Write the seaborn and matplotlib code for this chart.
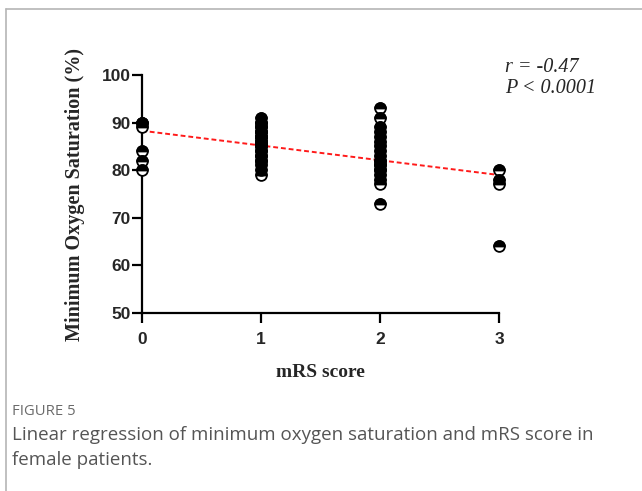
import numpy as np
import pandas as pd
import matplotlib
matplotlib.use('Agg')
import matplotlib.pyplot as plt
from matplotlib.markers import MarkerStyle
from matplotlib.lines import Line2D
import seaborn as sns

# mRS score groups and minimum oxygen saturation values
mrs_0 = [90, 90, 89, 84, 82, 80]
mrs_1 = [79, 80, 81, 82, 82, 83, 83, 84, 84, 85, 85, 85, 86, 86, 86, 86,
         87, 87, 87, 87, 88, 88, 88, 89, 89, 90, 90, 91]
mrs_2 = [93, 91, 89, 88, 87, 86, 85, 84, 83, 82, 82, 81, 81, 80, 80,
         79, 78, 77, 73]
mrs_3 = [80, 78, 77, 64]

x_ticks = [0, 1, 2, 3]
y_ticks = [50, 60, 70, 80, 90, 100]
stats_text = ["r = -0.47", "P < 0.0001"]

# uzun tablo haline getiriyorum
groups = [mrs_0, mrs_1, mrs_2, mrs_3]
df = pd.DataFrame({
    'mrs': np.concatenate([[i] * len(g) for i, g in enumerate(groups)]),
    'spo2': np.concatenate(groups),
})

sns.set_style('white')
fig = plt.figure(figsize=(6.42, 4.91), dpi=100)
ax = fig.add_axes([0.2212, 0.3625, 0.556, 0.4847])

# regresyon cizgisi (kirmizi kesikli)
sns.regplot(data=df, x='mrs', y='spo2', ax=ax, scatter=False, ci=None,
            truncate=True,
            line_kws=dict(color='#ff1a1a', lw=1.4, ls=(0, (2.5, 1.5)), zorder=2))

# yarim dolu daireler: once beyaz daire, sonra ust yarisi siyah
sns.scatterplot(data=df, x='mrs', y='spo2', ax=ax, s=60, marker='o',
                color='white', edgecolor='black', linewidth=1.3,
                clip_on=False, zorder=3)
sns.scatterplot(data=df, x='mrs', y='spo2', ax=ax, s=60,
                marker=MarkerStyle('o', fillstyle='top'),
                color='black', edgecolor='black', linewidth=1.3,
                clip_on=False, zorder=4)

ax.set_xlim(0, 3)
ax.set_ylim(50, 100)
ax.set_xticks(x_ticks)
ax.set_yticks(y_ticks)
ax.set_xticklabels([str(t) for t in x_ticks], fontfamily='Liberation Sans',
                   fontweight='bold', fontsize=12.5)
ax.set_yticklabels([str(t) for t in y_ticks], fontfamily='Liberation Sans',
                   fontweight='bold', fontsize=12.5)
ax.tick_params(axis='both', direction='out', length=7, width=1.6,
               color='black', bottom=True, left=True)
ax.tick_params(axis='y', pad=1)
ax.tick_params(axis='x', pad=7)
for side in ['top', 'right']:
    ax.spines[side].set_visible(False)
for side in ['left', 'bottom']:
    ax.spines[side].set_linewidth(1.6)
    ax.spines[side].set_color('black')

ax.set_xlabel('mRS score', fontfamily='Liberation Serif', fontweight='bold',
              fontsize=14, labelpad=12)
ax.set_ylabel('Minimum Oxygen Saturation (%)', fontfamily='Liberation Serif',
              fontweight='bold', fontsize=14.5, labelpad=12)

fig.text(0.787, 0.862, stats_text[0], fontfamily='Liberation Serif',
         style='italic', fontsize=14.5, va='center', ha='left')
fig.text(0.787, 0.820, stats_text[1], fontfamily='Liberation Serif',
         style='italic', fontsize=14.5, va='center', ha='left')

# figure kart cercevesi ve alt yazi
fig.add_artist(Line2D([0.009, 0.009], [0.0, 0.982], color='#b5b5b5', lw=1.2))
fig.add_artist(Line2D([0.009, 1.0], [0.982, 0.982], color='#b5b5b5', lw=1.2))
fig.text(0.019, 0.162, 'FIGURE 5', fontfamily='Open Sans', fontsize=10.7,
         color='#6b6b6b', va='center')
fig.text(0.019, 0.114,
         'Linear regression of minimum oxygen saturation and mRS score in',
         fontfamily='Open Sans', fontsize=13.5, color='#555555', va='center')
fig.text(0.019, 0.064, 'female patients.', fontfamily='Open Sans',
         fontsize=13.5, color='#555555', va='center')

fig.savefig('out.png', dpi=100)
